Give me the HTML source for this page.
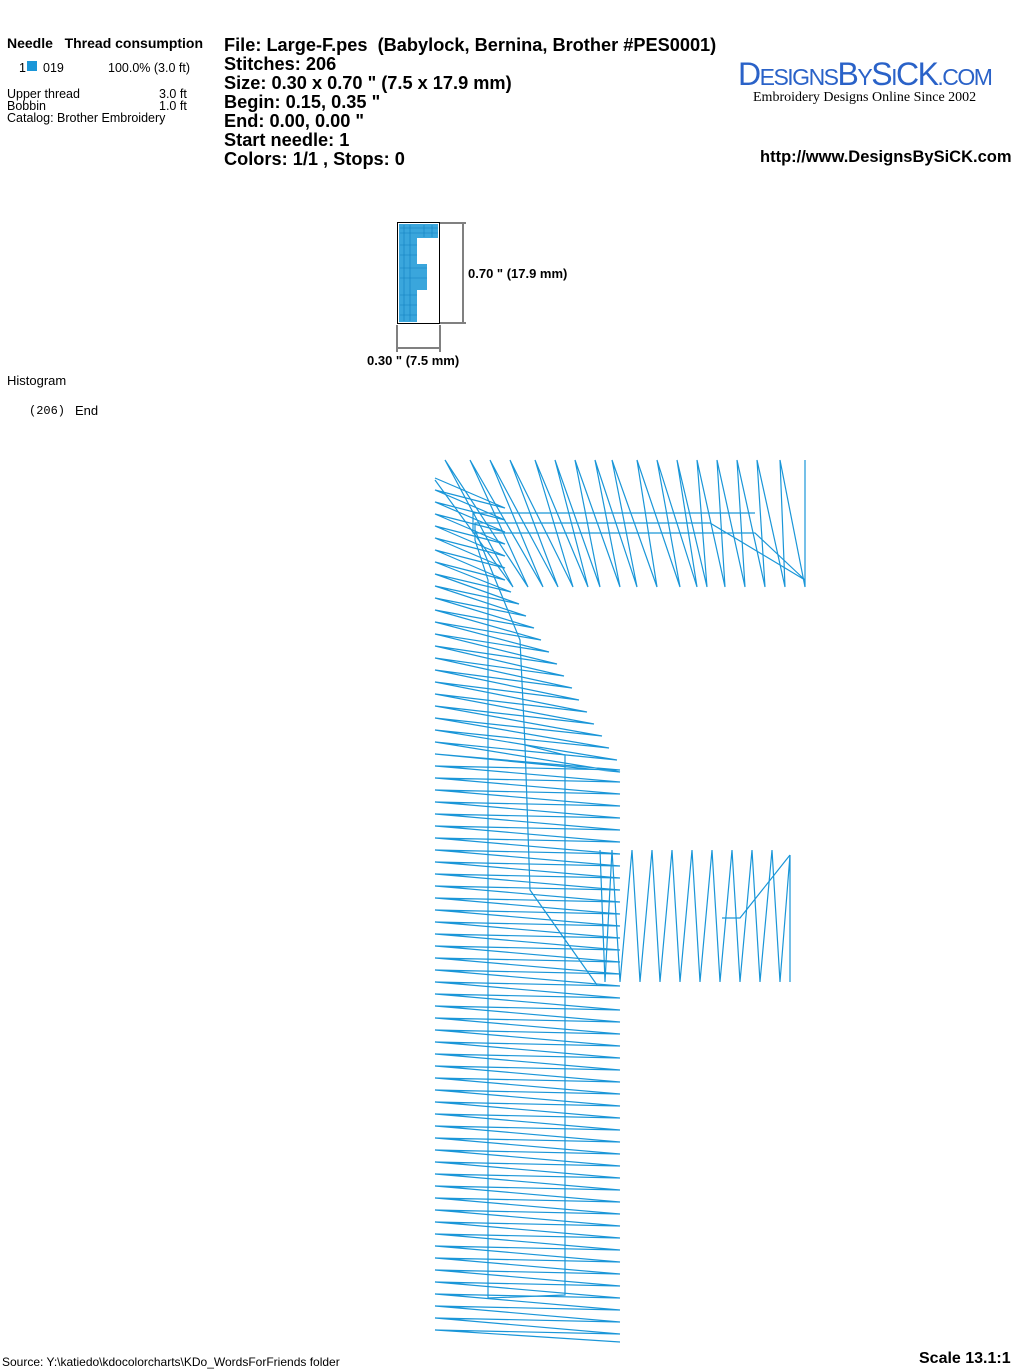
<!DOCTYPE html>
<html><head><meta charset="utf-8"><style>
body{margin:0;width:1024px;height:1370px;background:#fff;position:relative;overflow:hidden;font-family:"Liberation Sans",Arial,sans-serif;color:#000}
.a{position:absolute;white-space:nowrap}
.s{font-size:12.5px;line-height:13px}
.b{font-weight:bold}
.h{font-weight:bold;font-size:18.2px;line-height:19px}
</style></head><body>
<div class="a b" style="left:7px;top:35px;font-size:14px">Needle&nbsp;&nbsp;&nbsp;Thread consumption</div>
<div class="a s" style="left:19px;top:62px">1</div>
<div class="a" style="left:27px;top:61px;width:10px;height:10px;background:#1a96d8"></div>
<div class="a s" style="left:43px;top:62px">019</div>
<div class="a s" style="left:108px;top:62px">100.0% (3.0 ft)</div>
<div class="a s" style="left:7px;top:88px;line-height:12px">Upper thread<br>Bobbin<br>Catalog: Brother Embroidery</div>
<div class="a s" style="left:159px;top:88px;line-height:12px">3.0 ft<br>1.0 ft</div>
<div class="a h" style="left:224px;top:36px">File: Large-F.pes&nbsp; (Babylock, Bernina, Brother #PES0001)<br>Stitches: 206<br>Size: 0.30 x 0.70 " (7.5 x 17.9 mm)<br>Begin: 0.15, 0.35 "<br>End: 0.00, 0.00 "<br>Start needle: 1<br>Colors: 1/1 , Stops: 0</div>
<div class="a" style="left:738px;top:56px;font-family:'Liberation Sans',sans-serif;font-size:32px;color:#2a62c8;letter-spacing:-1.5px">D<span style="font-size:23px">ESIGNS</span>B<span style="font-size:23px">Y</span>S<span style="font-size:23px">I</span>CK<span style="font-size:23px">.COM</span></div>
<div class="a" style="left:753px;top:90px;font-family:'Liberation Serif',serif;font-size:14px">Embroidery Designs Online Since 2002</div>
<div class="a b" style="left:760px;top:148px;font-size:16.5px">http://www.DesignsBySiCK.com</div>

<svg class="a" style="left:0;top:0" width="1024" height="1370">
<rect x="397.5" y="222.5" width="42" height="101" fill="none" stroke="#000"/>
<g fill="#3aa6dc"><rect x="399" y="224" width="39" height="14"/><rect x="399" y="238" width="18" height="84"/><rect x="417" y="264" width="10" height="26"/></g>
<g stroke="#1080c0" stroke-width="0.6"><path d="M400 228h38M400 233h38M400 245h17M400 255h17M400 268h27M400 278h27M400 295h17M400 305h17M400 315h17M404 225v96M410 225v96M424 225v12M432 225v12"/></g>
<g stroke="#000" fill="none"><line x1="440" y1="223" x2="466" y2="223"/><line x1="440" y1="323" x2="466" y2="323"/><line x1="463" y1="224" x2="463" y2="322"/><line x1="397" y1="325" x2="397" y2="352"/><line x1="440" y1="325" x2="440" y2="352"/><line x1="398" y1="348" x2="439" y2="348"/></g>
<text x="468" y="278" font-family="Liberation Sans" font-weight="bold" font-size="13">0.70 " (17.9 mm)</text>
<text x="367" y="365" font-family="Liberation Sans" font-weight="bold" font-size="13">0.30 " (7.5 mm)</text>
<g fill="none" stroke="#1a96d8" stroke-width="1.2">
<polyline points="435,478 505,508 435,490 505,520 435,502 505,532 435,514 505,544 435,526 505,556 435,538 505,568 435,550 505,580 435,562 511,592 435,574 519,604 435,586 526,616 435,598 534,628 435,610 541,640 435,622 549,652 435,634 557,664 435,646 564,676 435,658 572,688 435,670 579,700 435,682 587,712 435,694 594,724 435,706 602,736 435,718 609,748 435,730 617,760 435,742 620,772 435,754 620,770 435,766 620,782 435,778 620,794 435,790 620,806 435,802 620,818 435,814 620,830 435,826 620,842 435,838 620,854 435,850 620,866 435,862 620,878 435,874 620,890 435,886 620,902 435,898 620,914 435,910 620,926 435,922 620,938 435,934 620,950 435,946 620,962 435,958 620,974 435,970 620,986 435,982 620,998 435,994 620,1010 435,1006 620,1022 435,1018 620,1034 435,1030 620,1046 435,1042 620,1058 435,1054 620,1070 435,1066 620,1082 435,1078 620,1094 435,1090 620,1106 435,1102 620,1118 435,1114 620,1130 435,1126 620,1142 435,1138 620,1154 435,1150 620,1166 435,1162 620,1178 435,1174 620,1190 435,1186 620,1202 435,1198 620,1214 435,1210 620,1226 435,1222 620,1238 435,1234 620,1250 435,1246 620,1262 435,1258 620,1274 435,1270 620,1286 435,1282 620,1298 435,1294 620,1310 435,1306 620,1322 435,1318 620,1334 435,1330 620,1342"/>
<polyline points="435,480 513,587 445,460 528,587 470,460 543,587 490,460 558,587 510,460 573,587 535,460 588,587 555,460 600,587 575,460 620,587 595,460 637,587 612,460 657,587 637,460 680,587 657,460 697,587 677,460 707,587 697,460 725,587 717,460 745,587 737,460 765,587 757,460 785,587 780,460 805,587 805,460 805,587"/>
<polyline points="600,850 605,982 612,850 620,982 632,850 640,982 652,850 660,982 672,850 680,982 692,850 700,982 712,850 720,982 732,850 740,982 752,850 760,982 772,850 780,982 790,855 790,982"/>
<polyline points="755,513 473,513 473,533 755,533 805,580 710,523 475,523 475,540 488,580 488,1298 565,1295 565,755 525,745 530,890 597,985"/>
<polyline points="475,530 520,640 525,745"/>
<polyline points="722,918 740,918 790,855"/>
</g>
</svg>
<div class="a" style="left:7px;top:373px;font-size:13px">Histogram</div>
<div class="a" style="left:29px;top:404px;font-size:12px;font-family:'Liberation Mono',monospace">(206)</div>
<div class="a" style="left:75px;top:403px;font-size:13px">End</div>
<div class="a" style="left:2px;top:1355px;font-size:12px">Source: Y:\katiedo\kdocolorcharts\KDo_WordsForFriends folder</div>
<div class="a b" style="left:919px;top:1350px;font-size:16px">Scale 13.1:1</div>
</body></html>
